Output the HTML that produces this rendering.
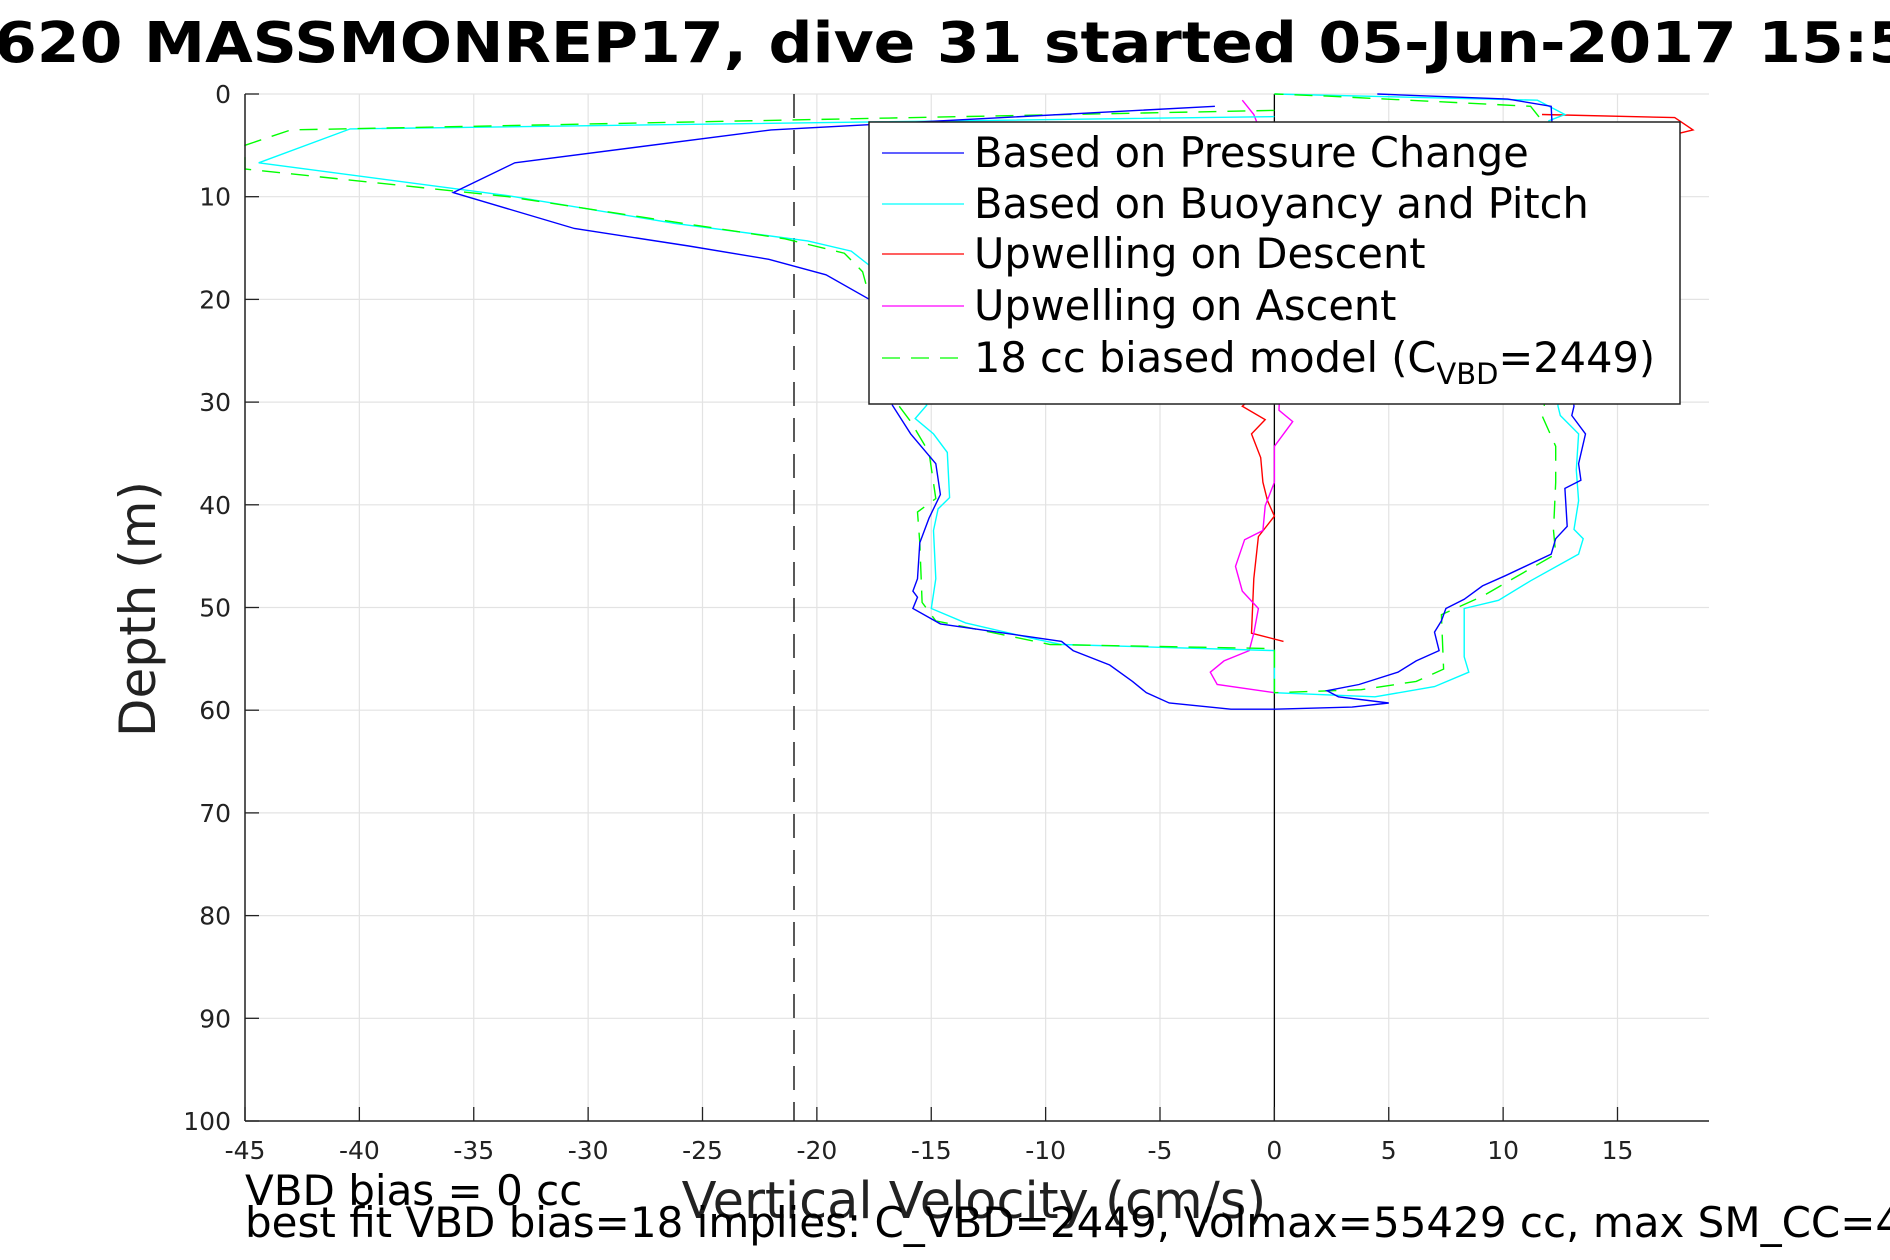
<!DOCTYPE html>
<html><head><meta charset="utf-8"><style>
html,body{margin:0;padding:0;background:#fff}
svg{display:block}
text{font-family:"DejaVu Sans","Liberation Sans",sans-serif}
</style></head><body>
<svg id="chart" width="1890" height="1260" viewBox="0 0 1890 1260" xmlns="http://www.w3.org/2000/svg">
<rect width="1890" height="1260" fill="#fff"/>
<g id="grid"></g>
<g id="series"></g>
<g id="axes"></g>
<text x="-6" y="62" font-size="56" font-weight="bold" textLength="1960" lengthAdjust="spacingAndGlyphs">620 MASSMONREP17, dive 31 started 05-Jun-2017 15:59</text>
<text transform="translate(155,609) rotate(-90)" text-anchor="middle" font-size="50" fill="#222">Depth (m)</text>
<text x="974" y="1218" text-anchor="middle" font-size="51" fill="#222">Vertical Velocity (cm/s)</text>
<text x="245" y="1205" font-size="42">VBD bias = 0 cc</text>
<text x="245" y="1237" font-size="42">best fit VBD bias=18 implies: C_VBD=2449, Volmax=55429 cc, max SM_CC=4</text>
<g id="legend">
<rect x="869" y="122" width="811" height="282" fill="#fff" stroke="#222" stroke-width="1.5"/>
<line x1="882" y1="153" x2="964" y2="153" stroke="#0000ff" stroke-width="1.3"/>
<text x="974" y="167" font-size="41.5">Based on Pressure Change</text>
<line x1="882" y1="204" x2="964" y2="204" stroke="#00ffff" stroke-width="1.3"/>
<text x="974" y="218" font-size="41.5">Based on Buoyancy and Pitch</text>
<line x1="882" y1="254" x2="964" y2="254" stroke="#ff0000" stroke-width="1.3"/>
<text x="974" y="268" font-size="41.5">Upwelling on Descent</text>
<line x1="882" y1="306" x2="964" y2="306" stroke="#ff00ff" stroke-width="1.3"/>
<text x="974" y="320" font-size="41.5">Upwelling on Ascent</text>
<line x1="882" y1="358" x2="964" y2="358" stroke="#00ff00" stroke-width="1.3" stroke-dasharray="18,11"/>
<text x="974" y="372" font-size="41.5">18 cc biased model (C<tspan font-size="29" dy="12">VBD</tspan><tspan dy="-12">=2449)</tspan></text>
</g>
</svg>
<script>
const xTicks=[-45,-40,-35,-30,-25,-20,-15,-10,-5,0,5,10,15];
const yTicks=[0,10,20,30,40,50,60,70,80,90,100];
const pressureV=[-2.6,-22,-33.2,-35.9,-30.6,-25.6,-22.1,-19.6,-17.7,-16.7,-15.9,-14.8,-14.6,-15.1,-15.5,-15.6,-15.8,-15.6,-15.8,-14.6,-9.3,-8.8,-7.2,-6.2,-5.6,-4.6,-1.9,0,3.4,5,2.8,2.3,3.7,5.4,6.2,7.2,7,7.3,7.5,8.3,9.1,10.1,12.1,12.3,12.8,12.7,13.4,13.3,13.6,13,13.1,12.5,12.1,10.2,4.5];
const pressureD=[1.2,3.5,6.7,9.6,13.1,14.8,16.1,17.6,20,30.3,33.1,36,39,41.3,43.7,47.2,48.4,49,50.1,51.6,53.3,54.2,55.6,57.2,58.3,59.3,59.9,59.9,59.7,59.3,58.7,58.1,57.5,56.3,55.2,54.2,52.4,51.3,50.1,49.2,47.9,46.9,44.8,43.3,42.1,38.4,37.6,36,33.1,31.3,30.4,20,1.2,0.5,0];
const buoyV=[0,-40.4,-44.4,-33.5,-26.2,-20.4,-18.5,-17.7,-15.2,-15.7,-14.9,-14.3,-14.2,-14.7,-14.9,-14.8,-15,-13.5,-10.4,-9.3,0,0,4.4,7,8.5,8.3,8.3,9.8,11.2,13.3,13.5,13.1,13.3,13.2,13.3,12.5,12.4,12,12.7,11.5,0];
const buoyD=[2.2,3.4,6.7,9.9,12.6,14.3,15.3,16.7,30.3,31.6,33.1,34.9,39.3,40.4,42.5,47.2,50.1,51.5,53.1,53.6,54.2,58.3,58.7,57.7,56.3,54.8,50.1,49.3,47.4,44.8,43.3,42.4,39.6,36.6,33.1,31.3,30.4,2.6,2,0.6,0];
const modelV=[0,-43,-45,-45,-33.5,-21.4,-18.8,-18,-16.4,-15.9,-15.1,-14.8,-15.6,-15.5,-15.4,-14.8,-9.8,0,0,3.8,6.2,7.4,7.3,9.1,12.3,12.2,12.3,12.3,11.7,11.8,11.7,11.2,2.3,0];
const modelD=[1.6,3.5,5,7.3,10,14.1,15.5,17.3,30.4,31.9,34.9,39.4,40.7,43.7,49.5,51.3,53.6,54,58.3,58,57.2,56,50.7,48.9,44.8,42.5,37.8,34.3,31.3,30.4,2.6,1.2,0.2,0];
const descentV=[11.7,17.5,18.3,10,-1.4,-0.4,-1,-0.6,-0.5,-0.3,0,-0.7,-0.9,-1,0.4];
const descentD=[2,2.3,3.5,8,30.4,31.7,33.1,35.4,37.8,39.6,41.1,43.1,47.2,52.5,53.3];
const ascentV=[0,-2.5,-2.8,-2.2,-1.1,-0.9,-0.7,-1.4,-1.7,-1.3,-0.5,-0.4,0,0,0.8,0.2,0.5,-0.9,-1.4];
const ascentD=[58.3,57.5,56.3,55.2,54.2,52.5,50.1,48.4,46,43.4,42.5,40.1,37.8,34.3,31.9,30.8,10,2,0.6];
const biasLine=[-21];

const X0=245,X1=1709,XMIN=-45,XMAX=19,Y0=94,Y1=1121,YMIN=0,YMAX=100;
const sx=v=>X0+(v-XMIN)/(XMAX-XMIN)*(X1-X0);
const sy=d=>Y0+(d-YMIN)/(YMAX-YMIN)*(Y1-Y0);
const NS='http://www.w3.org/2000/svg';
function mk(tag,parent,attrs){const e=document.createElementNS(NS,tag);for(const k in attrs)e.setAttribute(k,attrs[k]);parent.appendChild(e);return e;}
const grid=document.getElementById('grid'),axes=document.getElementById('axes'),ser=document.getElementById('series');
xTicks.forEach(t=>{
  const g=mk('line',grid,{x1:sx(t),x2:sx(t),y1:Y0,y2:Y1,stroke:'#e3e3e3','stroke-width':1.2});
  
  
  const tk=mk('line',axes,{x1:sx(t),x2:sx(t),y1:Y1,y2:Y1-14,stroke:'#222','stroke-width':1.3});
  
  
  const lb=mk('text',axes,{x:sx(t),y:Y1+38,'text-anchor':'middle','font-size':25,fill:'#222'});
  lb.textContent=t;
  
  
});
yTicks.forEach(t=>{
  const g=mk('line',grid,{x1:X0,x2:X1,y1:sy(t),y2:sy(t),stroke:'#e3e3e3','stroke-width':1.2});
  
  
  const tk=mk('line',axes,{x1:X0,x2:X0+14,y1:sy(t),y2:sy(t),stroke:'#222','stroke-width':1.3});
  
  
  const lb=mk('text',axes,{x:X0-14,y:sy(t)+9,'text-anchor':'end','font-size':25,fill:'#222'});
  lb.textContent=t;
  
  
});
const ax1=mk('line',axes,{x1:X0,x2:X0,y1:Y0,y2:Y1,stroke:'#222','stroke-width':1.5});


const ax2=mk('line',axes,{x1:X0,x2:X1,y1:Y1,y2:Y1,stroke:'#222','stroke-width':1.5});


const zl=mk('line',ser,{x1:sx(0),x2:sx(0),y1:Y0,y2:Y1,stroke:'#000','stroke-width':1.3});


const bl=mk('line',ser,{x1:sx(biasLine[0]),x2:sx(biasLine[0]),y1:Y0,y2:Y1,stroke:'#222','stroke-width':1.5,'stroke-dasharray':'24,12'});


function series(v,d,color,name,dash){
  const pts=v.map((x,i)=>sx(x).toFixed(1)+','+sy(d[i]).toFixed(1)).join(' ');
  const a={points:pts,fill:'none',stroke:color,'stroke-width':1.4};
  if(dash)a['stroke-dasharray']=dash;
  const p=mk('polyline',ser,a);
  
  
}
series(descentV,descentD,'#ff0000','upwelling-descent-line');
series(ascentV,ascentD,'#ff00ff','upwelling-ascent-line');
series(buoyV,buoyD,'#00ffff','buoyancy-pitch-line');
series(modelV,modelD,'#00ff00','biased-model-line','18,11');
series(pressureV,pressureD,'#0000ff','pressure-change-line');
</script>
</body></html>
